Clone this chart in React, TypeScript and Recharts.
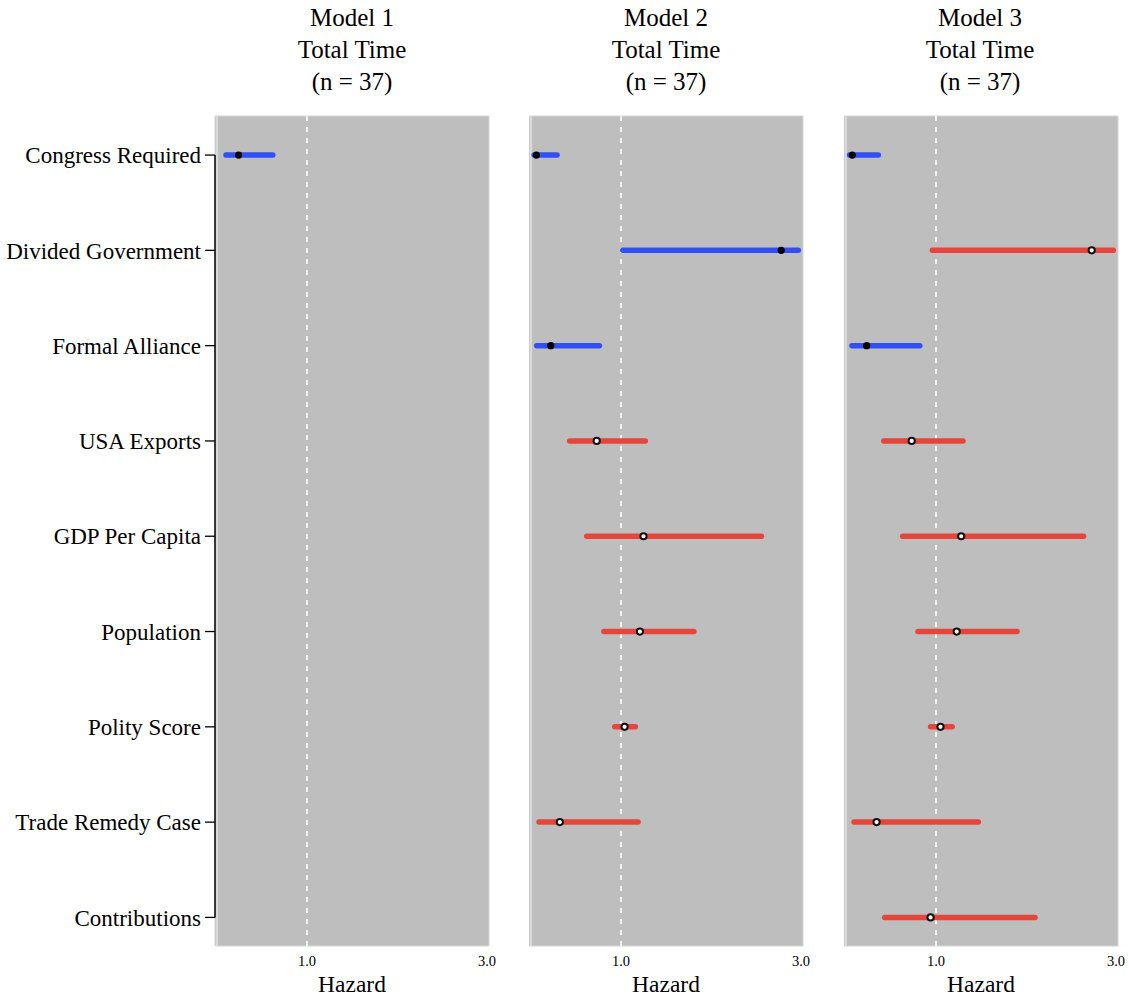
import React from 'react'
import {
  ComposedChart,
  XAxis,
  YAxis,
  Scatter,
  ReferenceLine,
  ReferenceArea,
} from 'recharts'

// rows, top to bottom
const variables = [
  'Congress Required',
  'Divided Government',
  'Formal Alliance',
  'USA Exports',
  'GDP Per Capita',
  'Population',
  'Polity Score',
  'Trade Remedy Case',
  'Contributions',
]

const modelTitles = ['Model 1', 'Model 2', 'Model 3']
const subTitle = 'Total Time'
const sampleLabel = '(n = 37)'
const xTicks = [1, 3]

// hazard ratio estimates and interval bounds (null = not in model)
const m1Est = [0.24, null, null, null, null, null, null, null, null]
const m1Low = [0.1, null, null, null, null, null, null, null, null]
const m1High = [0.62, null, null, null, null, null, null, null, null]
const m1Blue = [true, false, false, false, false, false, false, false, false]

const m2Est = [0.06, 2.78, 0.22, 0.73, 1.25, 1.21, 1.04, 0.32, null]
const m2Low = [0.035, 1.02, 0.064, 0.43, 0.62, 0.81, 0.93, 0.09, null]
const m2High = [0.29, 2.97, 0.76, 1.27, 2.56, 1.81, 1.16, 1.19, null]
const m2Blue = [true, true, true, false, false, false, false, false, false]

const m3Est = [0.07, 2.73, 0.23, 0.73, 1.28, 1.23, 1.05, 0.34, 0.94]
const m3Low = [0.04, 0.96, 0.067, 0.42, 0.63, 0.8, 0.94, 0.09, 0.43]
const m3High = [0.36, 2.97, 0.82, 1.3, 2.64, 1.9, 1.18, 1.47, 2.1]
const m3Blue = [true, false, true, false, false, false, false, false, false]

const X_MIN = -0.022
const X_MAX = 3.022
const Y_MIN = -0.41
const Y_MAX = 8.3

const BLUE = '#3050f6'
const RED = '#e5453a'
const FONT = '"Liberation Serif", "DejaVu Serif", serif'

interface PanelProps {
  est: (number | null)[]
  low: (number | null)[]
  high: (number | null)[]
  blue: boolean[]
  showLabels: boolean
}

function Dot(props: any) {
  const { cx, cy, payload } = props
  if (payload.blue) return <circle cx={cx} cy={cy} r={3.6} fill="#000" />
  return <circle cx={cx} cy={cy} r={3.1} fill="#fff" stroke="#111" strokeWidth={2} />
}

function Panel({ est, low, high, blue, showLabels }: PanelProps) {
  const points = est
    .map((v, i) => ({ x: v, y: i, blue: blue[i] }))
    .filter((p) => p.x !== null)
  const yAxisWidth = showLabels ? 215 : 0

  return (
    <ComposedChart
      width={274 + yAxisWidth + 10}
      height={996}
      margin={{ top: 116, right: 10, bottom: 20, left: 0 }}
    >
      <XAxis
        type="number"
        dataKey="x"
        domain={[X_MIN, X_MAX]}
        ticks={xTicks}
        allowDataOverflow
        tickFormatter={(v: number) => v.toFixed(1)}
        axisLine={false}
        tickLine={false}
        tickMargin={4}
        height={30}
        tick={{ fontSize: 14.5, fill: '#000', fontFamily: FONT }}
        label={{ value: 'Hazard', position: 'insideBottom', offset: -16, fontSize: 23.5, fill: '#000', fontFamily: FONT }}
      />
      <YAxis
        type="number"
        dataKey="y"
        domain={[Y_MIN, Y_MAX]}
        reversed
        allowDataOverflow
        ticks={variables.map((_, i) => i)}
        tickFormatter={(v: number) => variables[v]}
        hide={!showLabels}
        width={yAxisWidth}
        axisLine={false}
        tickSize={10}
        tickMargin={4}
        tickLine={{ stroke: '#000', strokeWidth: 1.3 }}
        tick={{ fontSize: 23, fill: '#000', fontFamily: FONT }}
      />
      <ReferenceArea x1={X_MIN} x2={X_MAX} y1={Y_MIN} y2={Y_MAX} fill="#bebebe" fillOpacity={1} stroke="#d6d6d6" strokeWidth={1} ifOverflow="visible" />
      <ReferenceLine x={0} stroke="#dadada" strokeWidth={2} />
      <ReferenceLine x={1} stroke="#fff" strokeWidth={1.6} strokeDasharray="5 6" />
      {showLabels && (
        <ReferenceLine
          segment={[{ x: X_MIN, y: 0 }, { x: X_MIN, y: variables.length - 1 }]}
          stroke="#000"
          strokeWidth={1.5}
          ifOverflow="visible"
        />
      )}
      {est.map((v, i) =>
        v === null || low[i] === null || high[i] === null ? null : (
          <ReferenceLine
            key={variables[i]}
            segment={[{ x: low[i] as number, y: i }, { x: high[i] as number, y: i }]}
            stroke={blue[i] ? BLUE : RED}
            strokeWidth={5.5}
            strokeLinecap="round"
            ifOverflow="visible"
          />
        ),
      )}
      <Scatter data={points} dataKey="x" shape={Dot} isAnimationActive={false} />
    </ComposedChart>
  )
}

function Title({ name, center }: { name: string; center: number }) {
  return (
    <div
      style={{
        position: 'absolute',
        top: 2,
        left: center - 100,
        width: 200,
        textAlign: 'center',
        fontFamily: FONT,
        fontSize: 25,
        lineHeight: '32px',
        color: '#000',
      }}
    >
      <div>{name}</div>
      <div>{subTitle}</div>
      <div>{sampleLabel}</div>
    </div>
  )
}

export default function App() {
  return (
    <div style={{ position: 'absolute', left: 0, top: 0, width: 1129, height: 996, background: '#fff' }}>
      <Title name={modelTitles[0]} center={352} />
      <Title name={modelTitles[1]} center={666} />
      <Title name={modelTitles[2]} center={980} />
      <div style={{ position: 'absolute', left: 0, top: 0 }}>
        <Panel est={m1Est} low={m1Low} high={m1High} blue={m1Blue} showLabels />
      </div>
      <div style={{ position: 'absolute', left: 529, top: 0 }}>
        <Panel est={m2Est} low={m2Low} high={m2High} blue={m2Blue} showLabels={false} />
      </div>
      <div style={{ position: 'absolute', left: 844, top: 0 }}>
        <Panel est={m3Est} low={m3Low} high={m3High} blue={m3Blue} showLabels={false} />
      </div>
    </div>
  )
}
